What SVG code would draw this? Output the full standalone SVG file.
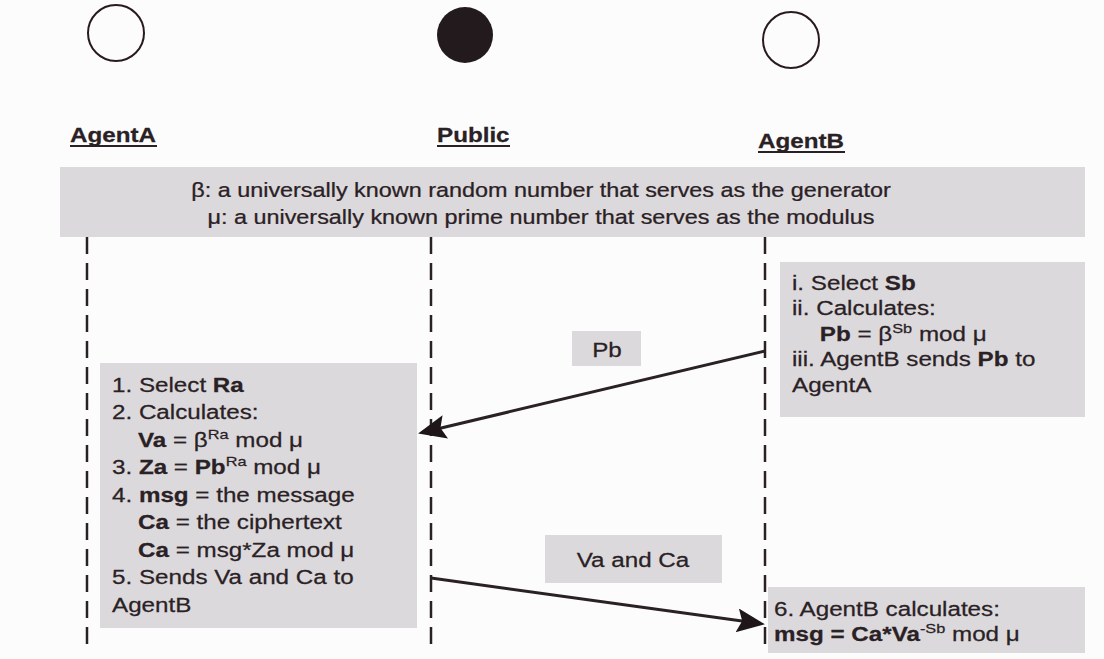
<svg xmlns="http://www.w3.org/2000/svg" width="1104" height="659" viewBox="0 0 1104 659">
<style>
text { font-family: "Liberation Sans", Arial, sans-serif; fill: #2a2125; stroke: #2a2125; stroke-width: 0.25; }
.t { font-size: 20px; }
.b { font-weight: bold; }
.sup { font-size: 13.5px; }
.box { fill: #dcd9dc; }
.life { stroke: #2a2125; stroke-width: 2.5; stroke-dasharray: 17 9; fill: none; }
.arrow { stroke: #2a2125; stroke-width: 3; fill: none; marker-end: url(#head); }
.ul { stroke: #2a2125; stroke-width: 2; }
</style>
<defs>
<marker id="head" markerUnits="userSpaceOnUse" markerWidth="32" markerHeight="26" refX="14" refY="12" orient="auto">
<path d="M0,0 L28,12 L0,24 L5,12 z" fill="#1e1619"/>
</marker>
</defs>
<rect width="1104" height="659" fill="#fcfcfc"/>

<g id="agentA">
<circle cx="116" cy="33" r="28" fill="none" stroke="#2a1a1f" stroke-width="2"/>
<g transform="translate(70,0) scale(1.21,1)"><text class="t b" x="0" y="142">AgentA</text></g>
<line class="ul" x1="70" y1="146" x2="157" y2="146"/>
</g>

<g id="public">
<circle cx="465" cy="35" r="28" fill="#231a1e"/>
<g transform="translate(437,0) scale(1.21,1)"><text class="t b" x="0" y="142">Public</text></g>
<line class="ul" x1="437" y1="146" x2="510" y2="146"/>
</g>

<g id="agentB">
<circle cx="791" cy="40" r="28" fill="none" stroke="#2a1a1f" stroke-width="2"/>
<g transform="translate(758,0) scale(1.21,1)"><text class="t b" x="0" y="148">AgentB</text></g>
<line class="ul" x1="758" y1="152" x2="845" y2="152"/>
</g>

<g id="banner">
<rect class="box" x="60" y="167" width="1025" height="70"/>
<g transform="translate(541,0) scale(1.2,1)">
<text class="t" x="0" y="197" text-anchor="middle" style="font-size:19.5px">β: a universally known random number that serves as the generator</text>
<text class="t" x="0" y="224" text-anchor="middle" style="font-size:19.5px">μ: a universally known prime number that serves as the modulus</text>
</g>
</g>

<g id="lifelines">
<line class="life" x1="87" y1="237" x2="87" y2="650"/>
<line class="life" x1="431" y1="237" x2="431" y2="650"/>
<line class="life" x1="765" y1="237" x2="765" y2="650"/>
</g>

<g id="boxA">
<rect class="box" x="100" y="363" width="317" height="265"/>
<g transform="translate(112,0) scale(1.21,1)">
<text class="t" x="0" y="392">1. Select <tspan class="b">Ra</tspan></text>
<text class="t" x="0" y="419.5">2. Calculates:</text>
<text class="t" x="21.5" y="447"><tspan class="b">Va</tspan> = β<tspan class="sup" dy="-8">Ra</tspan><tspan dy="8"> mod μ</tspan></text>
<text class="t" x="0" y="474.5">3. <tspan class="b">Za</tspan> = <tspan class="b">Pb</tspan><tspan class="sup" dy="-8">Ra</tspan><tspan dy="8"> mod μ</tspan></text>
<text class="t" x="0" y="502">4. <tspan class="b">msg</tspan> = the message</text>
<text class="t" x="21.5" y="529.5"><tspan class="b">Ca</tspan> = the ciphertext</text>
<text class="t" x="21.5" y="557"><tspan class="b">Ca</tspan> = msg*Za mod μ</text>
<text class="t" x="0" y="584.5">5. Sends Va and Ca to</text>
<text class="t" x="0" y="612">AgentB</text>
</g>
</g>

<g id="boxB1">
<rect class="box" x="780" y="262" width="305" height="155"/>
<g transform="translate(792,0) scale(1.21,1)">
<text class="t" x="0" y="290">i. Select <tspan class="b">Sb</tspan></text>
<text class="t" x="0" y="315.5">ii. Calculates:</text>
<text class="t" x="23" y="341"><tspan class="b">Pb</tspan> = β<tspan class="sup" dy="-8">Sb</tspan><tspan dy="8"> mod μ</tspan></text>
<text class="t" x="0" y="366.5">iii. AgentB sends <tspan class="b">Pb</tspan> to</text>
<text class="t" x="0" y="392">AgentA</text>
</g>
</g>

<g id="boxB2">
<rect class="box" x="768" y="587" width="317" height="66"/>
<g transform="translate(774,0) scale(1.21,1)">
<text class="t" x="0" y="616">6. AgentB calculates:</text>
<text class="t" x="0" y="641"><tspan class="b">msg = Ca*Va</tspan><tspan class="sup" dy="-8">-Sb</tspan><tspan dy="8"> mod μ</tspan></text>
</g>
</g>

<g id="connectors">
<line class="arrow" x1="765" y1="351" x2="431.7" y2="430.2"/>
<rect class="box" x="572" y="331" width="69" height="35"/>
<g transform="translate(607,0) scale(1.21,1)"><text class="t" x="0" y="357" text-anchor="middle">Pb</text></g>
<line class="arrow" x1="431" y1="578" x2="751.1" y2="622.3"/>
<rect class="box" x="545" y="535" width="177" height="48"/>
<g transform="translate(633,0) scale(1.21,1)"><text class="t" x="0" y="567" text-anchor="middle">Va and Ca</text></g>
</g>
</svg>
